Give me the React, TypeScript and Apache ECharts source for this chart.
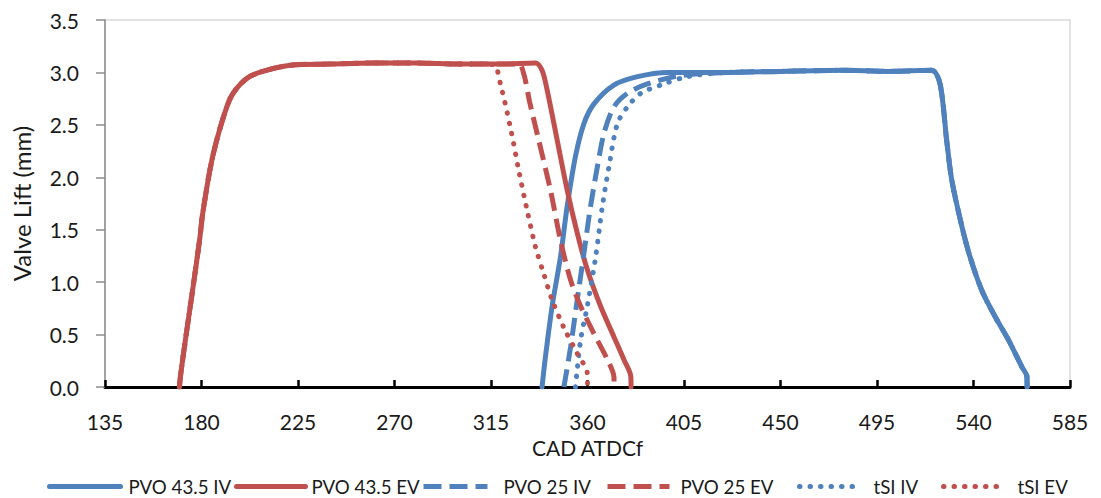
import React, { useEffect, useRef } from "react";
import * as echarts from "echarts";

// Valve lift traces, [crank angle (CAD ATDCf), lift (mm)]
const BLUE = "#4F81BD";
const RED = "#C0504D";
const FONT = "Lato, 'Open Sans', sans-serif";

const seriesNames = ["PVO 43.5 IV", "PVO 43.5 EV", "PVO 25 IV", "PVO 25 EV", "tSI IV", "tSI EV"];

const xTicks = { min: 135, max: 585, step: 45 };
const yTicks = { min: 0, max: 3.5, step: 0.5 };

// exhaust valve opening ramp and dwell, common to all three EV traces
const evOpening: [number, number][] = [
  [169.7, 0], [170.3, 0.12], [172.5, 0.45], [175.9, 0.93], [179.1, 1.4], [180.6, 1.66],
  [184.5, 2.13], [188.4, 2.45], [193.1, 2.74], [196.9, 2.86], [202.4, 2.96], [210.2, 3.02],
  [222.5, 3.07], [240, 3.08], [260, 3.09], [280, 3.09], [300, 3.08], [310, 3.08],
];

const evClose43: [number, number][] = [
  [320, 3.08], [335.7, 3.09], [338.8, 3.02], [341.2, 2.83], [345.9, 2.35], [350.5, 1.88],
  [355.2, 1.47], [359.9, 1.12], [366.1, 0.77], [372.3, 0.48], [377, 0.26], [380.2, 0.1], [380.3, 0],
];

const evClose25: [number, number][] = [
  [320, 3.08], [328, 3.08], [330.5, 2.97], [333, 2.72], [337.3, 2.35], [342.7, 1.88],
  [347.4, 1.4], [352.1, 1.02], [356.8, 0.77], [363, 0.51], [369.3, 0.26], [372.3, 0.1], [372.4, 0],
];

const evCloseTsi: [number, number][] = [
  [316.5, 3.07], [319.4, 2.89], [324, 2.48], [327.9, 2.07], [331.8, 1.69], [335.7, 1.34],
  [339.6, 1.08], [343.5, 0.83], [348.9, 0.57], [355.2, 0.32], [359.9, 0.13], [360, 0],
];

const ivOpen43: [number, number][] = [
  [338.8, 0], [340.4, 0.29], [343.5, 0.77], [347.4, 1.24], [350.5, 1.72], [354.4, 2.2],
  [358.3, 2.51], [363, 2.7], [372.3, 2.88], [383.3, 2.96], [397.3, 3.0],
];

const ivOpen25: [number, number][] = [
  [349, 0], [352.1, 0.38], [355.2, 0.83], [358.3, 1.27], [361.4, 1.72], [364.6, 2.1],
  [367.7, 2.42], [372.3, 2.67], [378.6, 2.8], [387.9, 2.89], [403.5, 2.97],
];

const ivOpenTsi: [number, number][] = [
  [354.4, 0], [356.8, 0.45], [359.9, 0.77], [363.8, 1.24], [366.9, 1.72], [370, 2.1],
  [373.9, 2.51], [378.6, 2.67], [384.8, 2.8], [394.2, 2.88], [406.7, 2.96],
];

// intake valve dwell and closing ramp, common to all three IV traces
const ivClosing: [number, number][] = [
  [425, 3.0], [450, 3.01], [480, 3.02], [500, 3.01], [520.5, 3.02], [524.4, 2.89],
  [527.5, 2.35], [529.9, 1.97], [534.6, 1.53], [538.4, 1.24], [543.9, 0.92], [550.1, 0.67],
  [556.3, 0.45], [562.6, 0.19], [564.9, 0.1], [565, 0],
];

const traces: [number, number][][] = [
  [...ivOpen43, ...ivClosing],
  [...evOpening, ...evClose43],
  [...ivOpen25, ...ivClosing],
  [...evOpening, ...evClose25],
  [...ivOpenTsi, ...ivClosing],
  [...evOpening, ...evCloseTsi],
];

const colors = [BLUE, RED, BLUE, RED, BLUE, RED];
const dashes: any[] = ["solid", "solid", [18, 8], [18, 8], [0.5, 10], [0.5, 10]];
const caps = ["round", "round", "butt", "butt", "round", "round"];

// legend placement along the bottom row
const legendLeft = [47, 234, 421, 605, 797, 941];
const legendIconWidth = [71, 69, 64, 62, 61, 62];
const legendTextPad = [3, 1, 11, 6, 8, 7];

export default function App() {
  const ref = useRef<HTMLDivElement>(null);

  useEffect(() => {
    if (!ref.current) return;
    const chart = echarts.init(ref.current, undefined, { renderer: "svg" });

    const series = seriesNames.map((name, i) => ({
      name,
      type: "line",
      data: traces[i],
      showSymbol: false,
      symbol: "none",
      smooth: 0.3,
      color: colors[i],
      lineStyle: { color: colors[i], width: 5, type: dashes[i], cap: caps[i] },
    }));

    const legends = seriesNames.map((name, i) => ({
      data: [name],
      left: legendLeft[i],
      top: 477,
      padding: 0,
      itemWidth: legendIconWidth[i],
      itemHeight: 14,
      itemStyle: { opacity: 0 },
      lineStyle: { width: 5, color: colors[i], type: dashes[i], cap: caps[i] },
      textStyle: {
        fontFamily: FONT,
        fontSize: 18.7,
        color: "#1a1a1a",
        padding: [0, 0, 0, legendTextPad[i]],
      },
    }));

    chart.setOption({
      animation: false,
      grid: {
        left: 105,
        right: 31,
        top: 20,
        bottom: 111,
        show: true,
        borderColor: "#D9D9D9",
        borderWidth: 1.5,
      },
      legend: legends,
      xAxis: {
        type: "value",
        min: xTicks.min,
        max: xTicks.max,
        interval: xTicks.step,
        name: "CAD ATDCf",
        nameLocation: "middle",
        nameGap: 47,
        nameTextStyle: { fontFamily: FONT, fontSize: 21, color: "#1a1a1a" },
        axisLine: { show: true, onZero: false, lineStyle: { color: "#000", width: 3 } },
        axisTick: { show: true, inside: true, length: 7, lineStyle: { color: "#000", width: 2.5 } },
        axisLabel: { fontFamily: FONT, fontSize: 21, color: "#1a1a1a", margin: 24 },
        splitLine: { show: false },
      },
      yAxis: {
        type: "value",
        min: yTicks.min,
        max: yTicks.max,
        interval: yTicks.step,
        name: "Valve Lift (mm)",
        nameLocation: "middle",
        nameGap: 72,
        nameTextStyle: { fontFamily: FONT, fontSize: 24, color: "#1a1a1a" },
        axisLine: { show: true, lineStyle: { color: "#8C8C8C", width: 1.5 } },
        axisTick: { show: true, inside: false, length: 9, lineStyle: { color: "#8C8C8C", width: 1.5 } },
        axisLabel: {
          fontFamily: FONT,
          fontSize: 21,
          color: "#1a1a1a",
          margin: 26,
          formatter: (v: number) => v.toFixed(1),
        },
        splitLine: { show: false },
      },
      series,
    });

    return () => chart.dispose();
  }, []);

  return (
    <div
      ref={ref}
      style={{ position: "absolute", left: 0, top: 0, width: 1101, height: 498, background: "#fff" }}
    />
  );
}
